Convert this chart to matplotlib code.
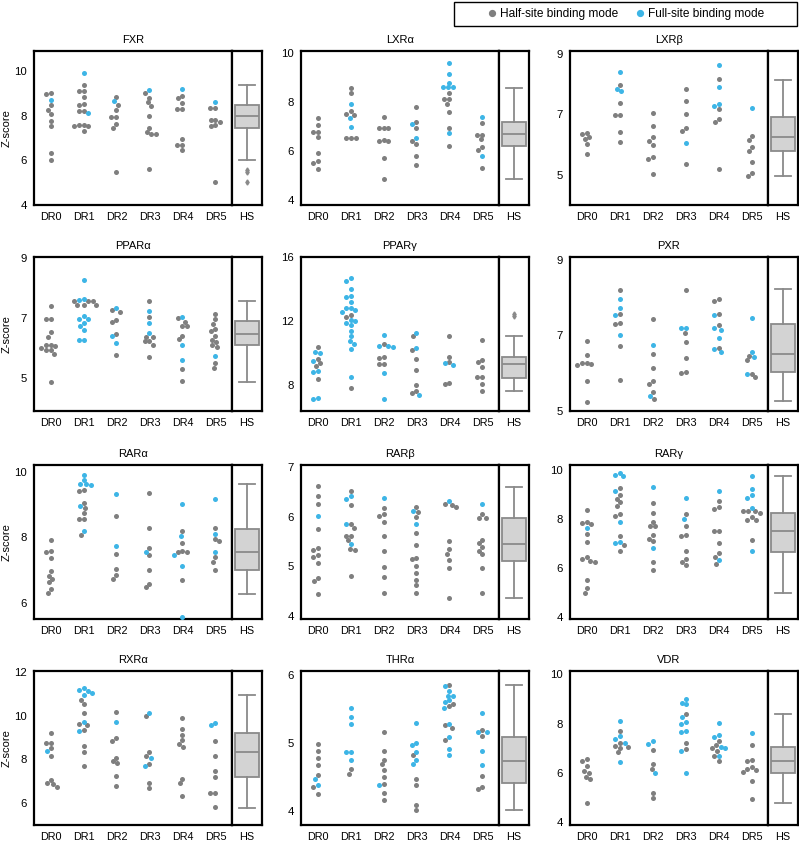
import numpy as np
import matplotlib
matplotlib.use("Agg")
import matplotlib.pyplot as plt
from matplotlib.lines import Line2D
from matplotlib.patches import Rectangle

plt.rcParams['font.family'] = ['Liberation Sans', 'DejaVu Sans']

W, H = 799, 841
GROUPS = ["DR0", "DR1", "DR2", "DR3", "DR4", "DR5"]
GRAY = "#7f7f7f"
BLUE = "#3db5e6"

# ---------------- data (half-site = gray, full-site = blue) ----------------
FXR_half = [[9.0, 8.97, 8.47, 8.27, 8.06, 7.78, 7.54, 6.34, 6.0],
            [9.39, 9.13, 9.1, 8.83, 8.52, 8.5, 8.22, 8.2, 7.6, 7.55, 7.55, 7.6, 7.3],
            [8.84, 8.5, 8.24, 7.96, 7.96, 7.61, 7.45, 5.5],
            [9.04, 8.81, 8.6, 8.42, 8.0, 7.45, 7.26, 7.17, 7.17, 5.61],
            [8.87, 8.79, 8.56, 8.3, 8.3, 6.96, 6.71, 6.71, 6.46],
            [8.34, 8.34, 7.82, 7.8, 7.7, 7.57, 7.55, 5.04]]
FXR_full = [[8.7], [9.9, 8.12], [8.64], [9.14], [9.2], [8.6]]
FXR_hs = [6.0, 7.45, 7.97, 8.47, 9.38]
FXR_hs_out = [5.57, 5.48, 5.02]

LXRa_half = [[7.36, 7.06, 6.8, 6.78, 6.57, 5.92, 5.6, 5.5, 5.29],
             [8.58, 8.37, 7.64, 7.52, 7.5, 6.54, 6.54, 6.54],
             [7.42, 6.97, 6.93, 6.97, 6.45, 6.4, 6.42, 5.72, 4.86],
             [7.82, 7.19, 6.96, 6.42, 6.3, 5.8, 5.44],
             [8.37, 8.13, 8.13, 7.95, 7.61, 6.97, 6.21],
             [7.15, 6.68, 6.68, 6.48, 6.17, 6.07, 5.32]]
LXRa_full = [[], [7.93, 7.37, 7.0], [], [7.1, 6.53],
             [9.59, 9.15, 8.81, 8.61, 8.61, 8.61, 6.75], [7.38, 5.8]]
LXRa_hs = [4.87, 6.23, 6.7, 7.19, 8.6]
LXRa_hs_out = []

LXRb_half = [[6.38, 6.35, 6.24, 6.18, 6.02, 5.7],
             [7.99, 7.38, 6.97, 6.97, 6.41, 6.1],
             [7.06, 6.61, 6.24, 6.12, 5.98, 5.6, 5.53, 5.03],
             [7.83, 7.45, 7.0, 6.56, 6.46, 5.35],
             [8.18, 7.17, 6.84, 6.74, 5.2],
             [6.29, 6.15, 5.92, 5.78, 5.41, 5.07, 4.96]]
LXRb_full = [[], [8.41, 7.85, 7.79], [], [6.04], [8.65, 7.92, 7.36, 7.29], [7.22]]
LXRb_hs = [4.95, 5.8, 6.25, 6.92, 8.15]
LXRb_hs_out = []

PPARa_half = [[7.41, 6.99, 6.97, 6.53, 6.39, 6.12, 6.11, 6.08, 6.02, 5.94, 5.93, 5.82, 4.86],
              [7.58, 7.58, 7.58, 7.44, 7.44, 7.44],
              [7.28, 7.2, 6.93, 6.88, 6.48, 5.77],
              [7.59, 7.03, 6.39, 6.39, 6.23, 6.23, 6.12, 5.69],
              [7.0, 6.88, 6.75, 6.73, 6.42, 6.31, 5.3, 4.9],
              [7.14, 6.96, 6.81, 6.64, 6.59, 6.4, 6.29, 6.21, 6.11, 6.03, 5.5, 5.34]]
PPARa_full = [[], [8.29, 7.6, 7.64, 7.07, 6.97, 6.97, 6.84, 6.73, 6.62, 6.28, 6.26],
              [7.33, 6.42, 6.17], [7.23, 6.84, 6.51], [7.03, 6.11, 5.61], [5.74]]
PPARa_hs = [4.86, 6.1, 6.47, 6.92, 7.57]
PPARa_hs_out = []

PPARg_half = [[10.38, 9.62, 9.37, 9.23, 8.41],
              [12.4, 12.26, 7.81],
              [10.57, 9.77, 9.68, 9.35, 9.31],
              [11.06, 10.2, 9.62, 8.96, 8.0, 7.65, 7.55],
              [11.06, 9.79, 9.46, 8.14, 8.1],
              [10.81, 9.58, 9.48, 9.17, 8.49, 8.49, 8.08, 7.65]]
PPARg_full = [[10.1, 10.0, 9.54, 8.88, 8.86, 7.23, 7.13],
              [14.66, 14.5, 14.0, 13.6, 13.5, 13.2, 12.83, 12.79, 12.67, 12.56,
               12.05, 12.0, 11.9, 11.74, 11.39, 11.06, 10.75, 10.6, 10.28, 8.49],
              [11.16, 10.45, 10.43, 10.42, 8.76, 7.13],
              [11.27, 10.34, 7.4], [9.37, 9.25], []]
PPARg_hs = [7.67, 8.45, 9.33, 9.79, 11.08]
PPARg_hs_out = [12.3, 12.45]

PXR_half = [[6.85, 6.48, 6.25, 6.21, 6.26, 6.27, 5.79, 5.25],
            [8.21, 7.57, 7.33, 7.29, 6.73, 5.83],
            [7.42, 6.5, 6.13, 5.79, 5.71, 5.51, 5.33],
            [8.19, 7.07, 6.82, 6.41, 6.03, 6.01],
            [7.95, 7.92, 7.57, 7.26, 6.67],
            [6.46, 6.34, 5.99, 5.91]]
PXR_full = [[], [7.95, 7.73, 7.53, 7.02], [6.75, 5.4], [7.2, 7.2],
            [7.54, 7.19, 7.14, 6.92, 6.63, 6.55], [7.47, 6.57, 6.43, 5.99]]
PXR_hs = [5.27, 6.04, 6.5, 7.29, 8.22]
PXR_hs_out = []

RARa_half = [[7.91, 7.58, 7.55, 7.35, 6.96, 6.82, 6.72, 6.62, 6.41, 6.28],
             [9.44, 9.4, 9.04, 8.9, 8.74, 8.56, 8.54, 8.05],
             [8.64, 7.47, 7.03, 6.84, 6.72],
             [9.35, 8.27, 7.66, 7.45, 7.0, 6.58, 6.48],
             [8.18, 7.82, 7.56, 7.53, 7.57, 6.68],
             [8.28, 7.95, 7.89, 7.38, 7.25, 7.0]]
RARa_full = [[], [9.91, 9.74, 9.61, 9.59, 9.62, 8.94, 8.18], [9.32, 7.74], [7.56],
             [9.02, 8.04, 7.46, 7.13, 5.56], [9.16, 8.1, 7.54]]
RARa_hs = [6.27, 7.0, 7.55, 8.24, 9.61]
RARa_hs_out = []

RARb_half = [[6.62, 6.42, 6.27, 5.75, 5.33, 5.36, 5.22, 5.19, 5.06, 4.77, 4.69, 4.43],
             [6.53, 6.23, 5.86, 5.78, 5.62, 5.62, 5.53, 5.34, 5.33, 4.81],
             [6.18, 6.05, 6.02, 5.89, 5.62, 5.3, 4.98, 4.78, 4.45],
             [6.19, 6.09, 6.0, 5.68, 5.42, 5.17, 5.14, 5.0, 4.86, 4.73, 4.61, 4.45],
             [6.26, 6.23, 6.19, 5.52, 5.34, 5.25, 5.12, 4.96, 4.36],
             [6.05, 5.97, 5.97, 5.54, 5.47, 5.38, 5.31, 5.24, 4.97, 4.45]]
RARb_full = [[6.02], [6.42, 6.36, 5.85, 5.44], [6.38], [6.11, 5.85], [6.32], [6.26]]
RARb_hs = [4.35, 5.1, 5.44, 5.97, 6.61]
RARb_hs_out = []

RARg_half = [[8.35, 7.82, 7.88, 7.8, 7.36, 7.05, 6.43, 6.34, 6.27, 6.23, 5.48, 5.17, 4.97],
             [9.25, 8.99, 8.82, 8.68, 8.54, 8.19, 8.1, 7.28, 6.93, 6.67],
             [8.63, 8.23, 7.86, 7.69, 7.69, 7.32, 7.18, 7.09, 6.22, 5.92],
             [8.19, 7.7, 7.35, 7.31, 6.69, 6.37, 6.22, 6.12],
             [8.71, 8.5, 8.39, 7.5, 7.48, 7.01, 6.6, 6.44, 6.14],
             [8.3, 8.3, 8.3, 8.22, 8.07, 7.97, 7.97, 7.14]]
RARg_full = [[7.62], [9.86, 9.8, 9.73, 9.14, 7.85, 7.05, 7.0], [9.28, 6.8], [8.84, 8.0],
             [9.13, 6.3], [9.77, 9.2, 8.98, 8.86, 8.45, 6.68]]
RARg_hs = [4.98, 6.65, 7.52, 8.23, 9.77]
RARg_hs_out = []

RXRa_half = [[9.2, 8.77, 8.74, 8.52, 8.18, 7.08, 6.88, 6.94, 6.76],
             [10.74, 10.53, 10.15, 9.62, 9.58, 9.33, 8.6, 8.32, 7.71],
             [10.17, 8.97, 8.85, 8.06, 7.91, 7.83, 7.24, 6.77],
             [9.97, 8.33, 8.17, 7.77, 6.92, 6.68],
             [9.92, 9.38, 9.12, 8.89, 8.71, 8.56, 7.11, 6.91, 6.35],
             [8.85, 8.15, 7.48, 7.21, 6.47, 6.47, 5.82]]
RXRa_full = [[8.38], [11.27, 11.14, 11.17, 11.05, 10.94, 9.73, 9.29], [9.71],
             [10.14, 8.08, 7.7], [], [9.65, 9.58]]
RXRa_hs = [5.8, 7.2, 8.32, 9.23, 10.94]
RXRa_hs_out = []

THRa_half = [[4.99, 4.89, 4.79, 4.68, 4.53, 4.36, 4.26],
             [4.62, 4.55],
             [5.17, 4.89, 4.76, 4.69, 4.6, 4.5, 4.4, 4.27, 4.16],
             [4.82, 4.47, 4.39, 4.1, 4.02],
             [5.85, 5.58, 5.55, 5.27, 5.22, 5.05],
             [5.2, 5.11, 4.52, 4.36, 4.33]]
THRa_full = [[4.47, 4.39], [5.52, 5.39, 5.28, 4.87, 4.87, 4.76], [4.39],
             [5.3, 5.01, 4.97, 4.87, 4.75, 4.7],
             [5.84, 5.77, 5.69, 5.7, 5.63, 5.61, 5.51, 5.28, 5.09, 4.91, 4.83],
             [5.44, 5.17, 5.17, 4.89, 4.68]]
THRa_hs = [4.02, 4.42, 4.74, 5.09, 5.85]
THRa_hs_out = []

VDR_half = [[6.54, 6.46, 6.26, 6.08, 6.0, 5.83, 5.73, 4.77],
            [7.71, 7.2, 7.1, 7.06, 7.0, 6.83],
            [6.92, 6.35, 6.15, 5.19, 4.97],
            [8.4, 7.2, 6.95],
            [7.28, 7.11, 7.0, 6.9, 6.67, 6.46],
            [7.13, 6.52, 6.49, 6.22, 6.17, 6.12, 6.03, 5.65, 4.93]]
VDR_full = [[], [8.1, 7.48, 7.38, 7.2, 6.42], [7.28, 7.18, 5.99],
            [8.98, 8.85, 8.78, 8.25, 8.06, 7.98, 7.7, 7.66, 6.88, 5.99],
            [8.01, 7.53, 7.47, 7.05, 7.02, 6.68], [7.62]]
VDR_hs = [4.76, 6.0, 6.49, 7.06, 8.4]
VDR_hs_out = []

TITLES = ["FXR", "LXRα", "LXRβ", "PPARα", "PPARγ", "PXR",
          "RARα", "RARβ", "RARγ", "RXRα", "THRα", "VDR"]
HALF = [FXR_half, LXRa_half, LXRb_half, PPARa_half, PPARg_half, PXR_half,
        RARa_half, RARb_half, RARg_half, RXRa_half, THRa_half, VDR_half]
FULL = [FXR_full, LXRa_full, LXRb_full, PPARa_full, PPARg_full, PXR_full,
        RARa_full, RARb_full, RARg_full, RXRa_full, THRa_full, VDR_full]
HS = [FXR_hs, LXRa_hs, LXRb_hs, PPARa_hs, PPARg_hs, PXR_hs,
      RARa_hs, RARb_hs, RARg_hs, RXRa_hs, THRa_hs, VDR_hs]
HS_OUT = [FXR_hs_out, LXRa_hs_out, LXRb_hs_out, PPARa_hs_out, PPARg_hs_out, PXR_hs_out,
          RARa_hs_out, RARb_hs_out, RARg_hs_out, RXRa_hs_out, THRa_hs_out, VDR_hs_out]
YLIMS = [(4.0, 10.9), (3.8, 10.1), (4.0, 9.1), (3.9, 9.05), (6.4, 16.0), (5.0, 9.07),
         (5.5, 10.2), (3.93, 7.05), (3.9, 10.2), (5.0, 12.05), (3.8, 6.06), (3.87, 10.14)]
YTICKS = [[4, 6, 8, 10], [4, 6, 8, 10], [5, 7, 9], [5, 7, 9], [8, 12, 16], [5, 7, 9],
          [6, 8, 10], [4, 5, 6, 7], [4, 6, 8, 10], [6, 8, 10, 12], [4, 5, 6], [4, 6, 8, 10]]

# ---------------- layout (pixels) ----------------
COL_LEFT = [34, 301, 570]
MAIN_W = 198
HS_W = 30
ROW_TOP = [51, 257, 465, 671]
PANEL_H = 154
FS = 7.8


def rect(l, t, w, h):
    return [l / W, 1 - (t + h) / H, w / W, h / H]


def swarm_offsets(ys_px, d):
    ys_px = np.asarray(ys_px, float)
    xs = np.zeros(len(ys_px))
    placed = []
    for i in np.argsort(-ys_px, kind="stable"):
        y = ys_px[i]
        neigh = [(px, py) for px, py in placed if abs(py - y) < d]
        cands = [0.0]
        for px, py in neigh:
            dx = np.sqrt(max(d * d - (py - y) ** 2, 0.0))
            cands += [px + dx, px - dx]
        cands = sorted(cands, key=lambda c: (abs(c), c))
        for c in cands:
            if all((c - px) ** 2 + (y - py) ** 2 >= d * d - 1e-6 for px, py in neigh):
                xs[i] = c
                break
        placed.append((xs[i], y))
    return xs


fig = plt.figure(figsize=(W / 100, H / 100), dpi=100)

for k in range(12):
    r, c = divmod(k, 3)
    l, t = COL_LEFT[c], ROW_TOP[r]
    ax = fig.add_axes(rect(l, t, MAIN_W, PANEL_H))
    axh = fig.add_axes(rect(l + MAIN_W, t, HS_W, PANEL_H), sharey=ax)
    y0, y1 = YLIMS[k]
    px_per_y = PANEL_H / (y1 - y0)
    x_per_px = 6.0 / MAIN_W
    for g in range(6):
        half = list(HALF[k][g])
        full = list(FULL[k][g])
        vals = np.array(half + full, float)
        isfull = np.array([False] * len(half) + [True] * len(full))
        off = swarm_offsets((vals - y0) * px_per_y, 5.0) * x_per_px
        ax.scatter(g + off[~isfull], vals[~isfull], s=13, color=GRAY, linewidths=0, zorder=3)
        ax.scatter(g + off[isfull], vals[isfull], s=13, color=BLUE, linewidths=0, zorder=4)
    ax.set_xlim(-0.5, 5.5)
    ax.set_ylim(y0, y1)
    ax.set_xticks(range(6))
    ax.set_xticklabels(GROUPS)
    ax.set_yticks(YTICKS[k])
    ax.tick_params(length=0, labelsize=FS, pad=5)
    ax.tick_params(axis="y", labelsize=8.2)
    ax.set_title(TITLES[k], fontsize=8, pad=6)
    if c == 0:
        ax.set_ylabel("Z-score", fontsize=8)
        ax.yaxis.set_label_coords(-22 / MAIN_W, 0.5)

    st = HS[k]
    stats = [dict(whislo=st[0], q1=st[1], med=st[2], q3=st[3], whishi=st[4],
                  fliers=HS_OUT[k])]
    axh.bxp(stats, positions=[0], widths=0.8, patch_artist=True, capwidths=[0.55],
            boxprops=dict(facecolor="#d3d3d3", edgecolor="#8a8a8a", linewidth=1.3),
            medianprops=dict(color="#8a8a8a", linewidth=1.3),
            whiskerprops=dict(color="#8a8a8a", linewidth=1.3),
            capprops=dict(color="#8a8a8a", linewidth=1.3),
            flierprops=dict(marker="d", markersize=2.6, markerfacecolor="#8a8a8a",
                            markeredgecolor="#8a8a8a"))
    axh.set_xlim(-0.5, 0.5)
    axh.set_xticks([0])
    axh.set_xticklabels(["HS"])
    axh.tick_params(length=0, labelsize=FS, pad=5, labelleft=False)
    for a in (ax, axh):
        for sp in a.spines.values():
            sp.set_linewidth(1.6)
            sp.set_color("black")

# legend
fig.patches.append(Rectangle((454 / W, 1 - 26 / H), 343 / W, 24 / H, transform=fig.transFigure,
                             fill=False, edgecolor="black", linewidth=1.0))
handles = [Line2D([], [], marker="o", ls="", color=GRAY, markersize=4.2),
           Line2D([], [], marker="o", ls="", color=BLUE, markersize=4.2)]
fig.legend(handles, ["Half-site binding mode", "Full-site binding mode"], loc="center",
           bbox_to_anchor=(625.5 / W, 1 - 14 / H), ncol=2, frameon=False, fontsize=8.6,
           handlelength=0.8, handletextpad=0.3, columnspacing=1.4)

fig.savefig("out.png", dpi=100)
